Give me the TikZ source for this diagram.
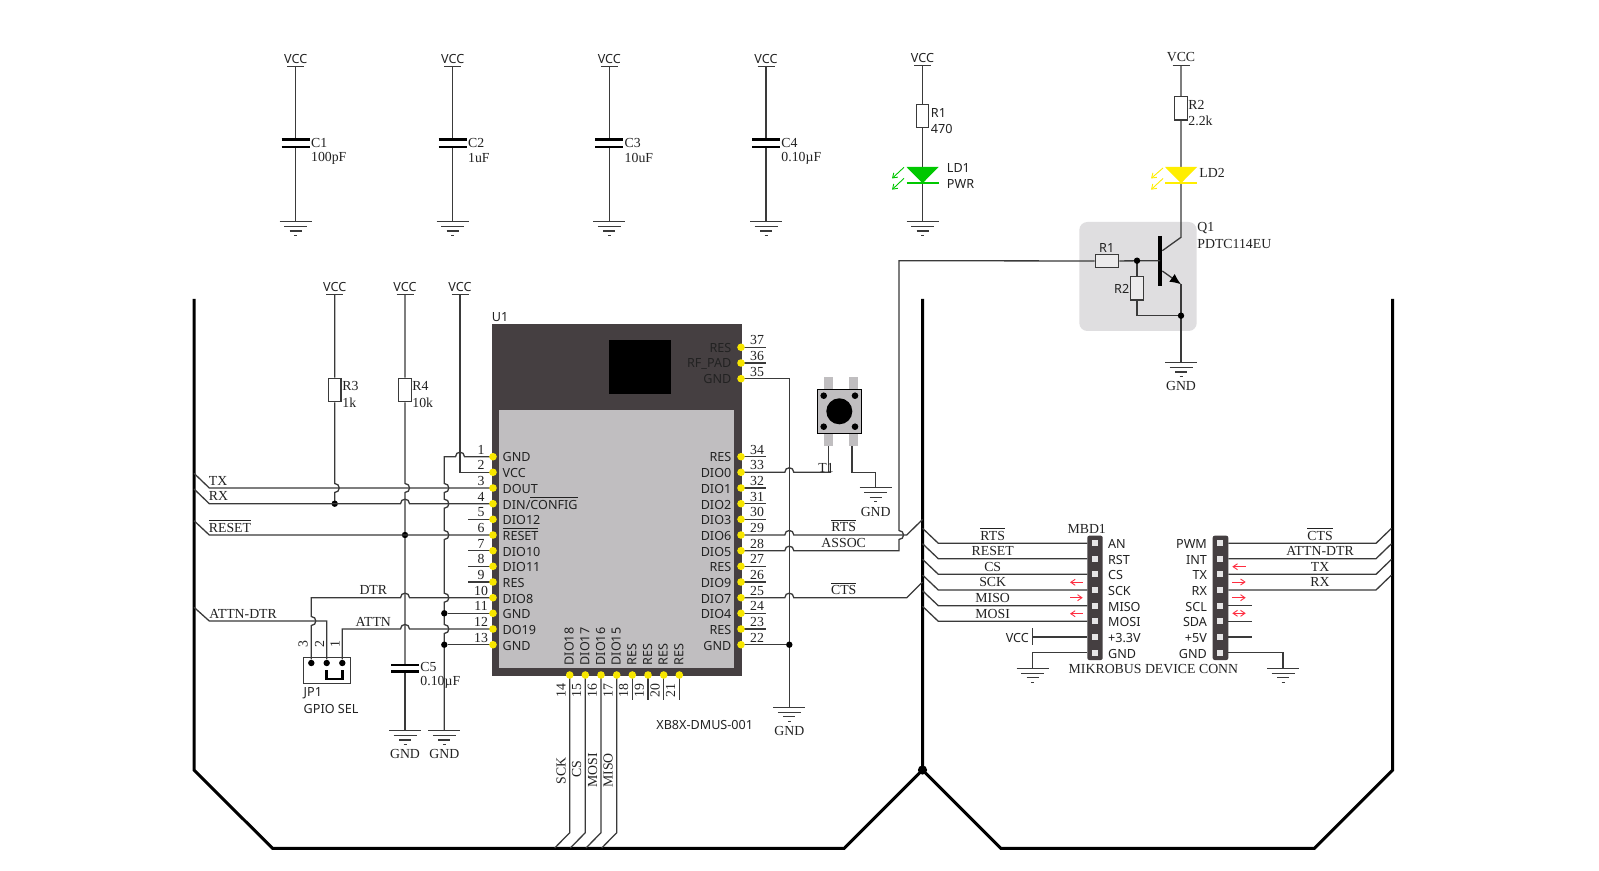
\documentclass[tikz,border=0pt]{standalone}
\usepackage{fontspec}
\setmainfont{Liberation Serif}
\newfontfamily\sanfont{Noto Sans}
\usetikzlibrary{arrows.meta}
\definecolor{wirec}{HTML}{3A3A3A}
\definecolor{chipd}{HTML}{453F41}
\definecolor{chipl}{HTML}{C0BEC0}
\definecolor{boxg}{HTML}{DFDEE0}
\definecolor{pinY}{HTML}{F7E600}
\definecolor{redA}{HTML}{FF2D40}
\definecolor{ledG}{HTML}{00C800}
\definecolor{ledY}{HTML}{FFEE00}
\definecolor{txtc}{HTML}{222222}
\tikzset{
  wire/.style={draw=wirec,line width=0.65pt},
  rail/.style={draw=black,line width=1.5pt,line join=miter},
  ser/.style={font=\fontsize{6.9}{8}\selectfont,text=txtc,inner sep=0pt,yshift=-0.2pt},
  san/.style={font=\sanfont\fontsize{6.3}{8}\selectfont,text=txtc,inner sep=0pt,yshift=-0.4pt},
  resv/.style={draw=wirec,line width=0.65pt,fill=white,minimum width=6.2pt,minimum height=11.7pt,inner sep=0pt},
  resh/.style={draw=wirec,line width=0.65pt,fill=white,minimum width=11.7pt,minimum height=6.2pt,inner sep=0pt},
  plate/.style={draw=black,line width=1.3pt},
  jdot/.style={circle,fill=black,inner sep=0pt,minimum size=3.2pt},
  pindot/.style={circle,fill=pinY,inner sep=0pt,minimum size=3.8pt},
  hdrsq/.style={fill=chipl!40!white,draw=none,inner sep=0pt,minimum size=3pt},
  redarrow/.style={draw=redA,line width=0.45pt},
  ledarrow/.style={line width=0.45pt,-{Straight Barb[length=2.2pt,width=3pt]}},
}
\newcommand\ovl[1]{\vphantom{#1}\smash{\ensuremath{\overline{\hbox{#1}}}}}
\newcommand\hopU[2]{-- ({#1-4.5},{#2}) .. controls ({#1-4.5},{#2-6}) and ({#1+4.5},{#2-6}) .. ({#1+4.5},{#2})}
\newcommand\hopD[2]{-- ({#1+4.5},{#2}) .. controls ({#1+4.5},{#2-6}) and ({#1-4.5},{#2-6}) .. ({#1-4.5},{#2})}
\newcommand\hopR[2]{-- ({#1},{#2-4.5}) .. controls ({#1+6},{#2-4.5}) and ({#1+6},{#2+4.5}) .. ({#1},{#2+4.5})}
\newcommand\hopRup[2]{-- ({#1},{#2+4.5}) .. controls ({#1+6},{#2+4.5}) and ({#1+6},{#2-4.5}) .. ({#1},{#2-4.5})}
\newcommand\vccbar[3]{\coordinate (#1) at ({#2},{#3+8.3});
  \draw[wire] ({#2-8.5},{#3+8.3}) -- ({#2+8.5},{#3+8.3});}
\newcommand\vccsym[3]{\node[san] (#1l) at ({#2},{#3}) {VCC};\vccbar{#1}{#2}{#3}}
\newcommand\vccser[3]{\node[ser] (#1l) at ({#2},{#3}) {VCC};\vccbar{#1}{#2}{#3}}
\newcommand\gndsym[3]{\coordinate (#1) at ({#2},{#3});
  \draw[wire] ({#2-16},{#3}) -- ({#2+16},{#3});
  \draw[wire] ({#2-11.5},{#3+5}) -- ({#2+11.5},{#3+5});
  \draw[wire] ({#2-6},{#3+9.5}) -- ({#2+6},{#3+9.5});
  \draw[wire] ({#2-1.5},{#3+14}) -- ({#2+1.5},{#3+14});}
\newcommand\gndlab[3]{\gndsym{#1}{#2}{#3}\node[ser] (#1l) at ({#2},{#3+23.5}) {GND};}
\newcommand\capv[4]{% name x label value
  \vccsym{#1v}{#2}{58}
  \gndsym{#1g}{#2}{221.5}
  \coordinate (#1a) at ({#2},139.7); \coordinate (#1b) at ({#2},146.9);
  \draw[wire] (#1v) -- (#1a); \draw[wire] (#1b) -- (#1g);
  \draw[plate] ({#2-14},139.7) -- ({#2+14},139.7);
  \draw[plate] ({#2-14},146.9) -- ({#2+14},146.9);
  \node[ser,anchor=west] (#1n) at ({#2+15},143) {#3};
  \node[ser,anchor=west] (#1w) at ({#2+15},158) {#4};}
\begin{document}
\begin{tikzpicture}[x=0.5pt,y=-0.5pt]
\useasboundingbox (0,0) rectangle (1599,871);
\fill[white] (0,0) rectangle (1599,871);

% rails
\draw[rail] (194,299) -- (194,770) -- (272.5,848.3) -- (844.3,848.3) -- (922.5,770) -- (922.5,299);
\draw[rail] (922.5,770) -- (1000.7,848.3) -- (1314.3,848.3) -- (1392.7,770) -- (1392.7,299);
\node[circle,fill=black,inner sep=0pt,minimum size=4.6pt] (railj) at (922.5,770) {};

% top capacitors
\capv{ca}{295.7}{C1}{100pF}
\capv{cb}{452.7}{C2}{1uF}
\capv{cc}{609.3}{C3}{10uF}
\capv{cd}{766}{C4}{0.10\textmu F}

% LD1
\vccsym{vLa}{922.5}{57.5}
\node[resv] (R1a) at (922.5,116) {};
\gndsym{gLa}{922.5}{221.5}
\draw[wire] (vLa) -- (R1a) -- (gLa);
\fill[ledG] (906.5,167) -- (938.5,167) -- (922.5,183.3) -- cycle;
\draw[ledG,line width=1.2pt] (906.5,183.3) -- (938.5,183.3);
\draw[ledarrow,ledG] (904,167.3) -- (892,178.5);
\draw[ledarrow,ledG] (904,178.3) -- (892,189.7);
\node[san,anchor=west] (R1an) at (930.5,112.7) {R1};
\node[san,anchor=west] (R1av) at (930.5,128.3) {470};
\node[san,anchor=west] (LD1n) at (946.5,167.7) {LD1};
\node[san,anchor=west] (LD1v) at (946.5,183.3) {PWR};

% LD2 and Q1
\fill[boxg,rounded corners=4pt] (1079.3,222) rectangle (1196.7,331);
\vccser{vLb}{1181}{57}
\node[resv] (R2b) at (1181,108.3) {};
\coordinate (Qc) at (1181,237.3);
\coordinate (Qcb) at (1162.3,250.7);
\coordinate (Qeb) at (1162.3,271);
\coordinate (Qe) at (1181,284.3);
\coordinate (Qj) at (1181,315.7);
\coordinate (Qb) at (1137,260.7);
\coordinate (Qbar) at (1160,260.7);
\coordinate (Qr) at (1137,315.7);
\gndlab{gQ}{1181}{362.5}
\draw[wire] (vLb) -- (R2b) -- (Qc) -- (Qcb);
\fill[ledY] (1165,167) -- (1197,167) -- (1181,183.3) -- cycle;
\draw[ledY,line width=1.2pt] (1165,183.3) -- (1197,183.3);
\draw[ledarrow,ledY] (1163,168) -- (1151,178.5);
\draw[ledarrow,ledY] (1163,178.5) -- (1151,189.7);
\node[ser,anchor=west] (R2bn) at (1188,105) {R2};
\node[ser,anchor=west] (R2bv) at (1188,120.7) {2.2k};
\node[ser,anchor=west] (LD2n) at (1199,173) {LD2};
\node[ser,anchor=west] (Q1n) at (1197,228) {Q1};
\node[ser,anchor=west] (Q1v) at (1197,244) {PDTC114EU};
\draw[black,line width=2.4pt] (1160,236) -- (1160,286);
\draw[wire,-{Latex[length=5.5pt,width=4.8pt,black]}] (Qeb) -- (Qe);
\draw[wire] (Qe) -- (Qj) -- (gQ);
\node[resh,fill=boxg!60!white] (R1q) at (1107,261) {};
\node[resv,fill=boxg!60!white] (R2q) at (1137,288.3) {};
\draw[wire] (R1q) -- (Qbar);
\draw[wire] (Qb) -- (R2q) -- (Qr) -- (Qj);
\node[jdot] (Qbd) at (Qb) {};
\node[jdot] (Qjd) at (Qj) {};
\node[san] (R1qn) at (1106.7,247.7) {R1};
\node[san] (R2qn) at (1121.7,287.7) {R2};

% chip
\fill[chipd] (491.7,324) rectangle (742,675.7);
\fill[chipl] (499.3,410) rectangle (734.3,668.3);
\fill[black] (609,339.7) rectangle (671.3,393.7);
\node[san,anchor=west] (U1n) at (491.5,316.7) {U1};
\node[san,anchor=west] (U1v) at (656,724) {XB8X-DMUS-001};

% pins
\foreach \n/\y in {1/456.7,2/472.3,3/488,4/503.7,5/519.3,6/535,7/550.7,8/566.3,9/582,10/597.7,11/613.3,12/629,13/644.7}{
  \coordinate (L\n) at (493,\y);
  \node[ser] (Ln\n) at (481,\y-7.4) {\n};
}
\foreach \n/\y/\t in {1/456.7/GND,2/472.3/VCC,3/488/DOUT,5/519.3/DIO12,6/535/\ovl{RESET},7/550.7/DIO10,8/566.3/DIO11,9/582/RES,10/597.7/DIO8,11/613.3/GND,12/629/DO19,13/644.7/GND}{
  \node[san,anchor=west] (Lt\n) at (502.3,\y) {\t};
}
\node[san,anchor=west] (Lt4) at (502.3,503.7) {DIN/\ovl{CONFIG}};
\foreach \n/\y/\t in {37/347.3/RES,36/363/RF\_PAD,35/378.7/GND,34/456.7/RES,33/472.3/DIO0,32/488/DIO1,31/503.7/DIO2,30/519.3/DIO3,29/535/DIO6,28/550.7/DIO5,27/566.3/RES,26/582/DIO9,25/597.7/DIO7,24/613.3/DIO4,23/629/RES,22/644.7/GND}{
  \coordinate (R\n) at (741,\y);
  \node[san,anchor=east] (Rt\n) at (731.7,\y) {\t};
  \node[ser] (Rn\n) at (757,\y-7.4) {\n};
}
\foreach \n/\x/\t in {14/569.7/DIO18,15/585.3/DIO17,16/601/DIO16,17/616.7/DIO15,18/632.3/RES,19/648/RES,20/663.7/RES,21/679.3/RES}{
  \coordinate (B\n) at (\x,675);
  \node[san,rotate=90,anchor=west] (Bt\n) at (\x-0.5,665) {\t};
  \node[ser,rotate=90] (Bn\n) at (\x-8.7,690) {\n};
}

% stubs
\foreach \n in {5,7,8,9}{ \draw[wire] (L\n) -- ++(-25.3,0); }
\foreach \n in {37,36,34,32,31,30,27,26,24,23}{ \draw[wire] (R\n) -- ++(25,0); }
\foreach \n in {18,19,20,21}{ \draw[wire] (B\n) -- ++(0,24.5); }

% left nets
\coordinate (txs) at (194,473.3); \coordinate (rxs) at (194,489);
\coordinate (rss) at (194,520.7); \coordinate (ads) at (194,607.3);
\vccsym{vR3}{334.7}{286}
\vccsym{vR4}{405}{286}
\vccsym{vP2}{460}{286}
\node[resv] (R3) at (334.7,390) {};
\node[resv] (R4) at (405,390) {};
\node[ser,anchor=west] (R3n) at (342,385.6) {R3};
\node[ser,anchor=west] (R3v) at (342,402) {1k};
\node[ser,anchor=west] (R4n) at (412,385.6) {R4};
\node[ser,anchor=west] (R4v) at (412,402) {10k};
\draw[wire] (vR3) -- (R3) \hopR{334.7}{488} -- (334.7,503.7);
\node[jdot] (jR3) at (334.7,503.7) {};
\draw[wire] (vR4) -- (R4) \hopR{405}{488} -- (405,665);
\coordinate (C5b) at (405,671.7);
\gndlab{gC5}{405}{730.5}
\draw[wire] (C5b) -- (gC5);
\draw[plate] (391,665) -- (419,665);
\draw[plate] (391,671.7) -- (419,671.7);
\node[ser,anchor=west] (C5n) at (420,666.7) {C5};
\node[ser,anchor=west] (C5v) at (420,682) {0.10\textmu F};
\node[jdot] (jR4) at (405,535) {};
\draw[wire] (vP2) |- (L2);
\gndlab{gP1}{444.3}{730.5}
\draw[wire] (L1) \hopD{460}{456.7} -- (444.3,456.7) \hopR{444.3}{488} \hopR{444.3}{503.7} \hopR{444.3}{535} \hopR{444.3}{597.7} \hopR{444.3}{629} -- (gP1);
\node[jdot] (jL11) at (444.3,613.3) {};
\node[jdot] (jL13) at (444.3,644.7) {};
\draw[wire] (L11) -- (jL11);
\draw[wire] (L13) -- (jL13);
\draw[wire] (txs) -- (209.3,488) -- (L3);
\draw[wire] (rxs) -- (209.3,503.7) \hopU{405}{503.7} -- (L4);
\draw[wire] (rss) -- (209.3,535) -- (L6);
\node[ser,anchor=west] (txn) at (208.5,480.7) {TX};
\node[ser,anchor=west] (rxn) at (208.5,496) {RX};
\node[ser,anchor=west] (rsn) at (208.5,527.3) {\ovl{RESET}};
\node[ser,anchor=west] (adn) at (209,613.3) {ATTN-DTR};
\node[ser] (dtn) at (373.3,590) {DTR};
\node[ser] (atn) at (373.3,621.7) {ATTN};

% JP1
\draw[wire,fill=white] (303.3,657.3) rectangle (350.3,683.7);
\node[jdot] (J3) at (311.3,663) {};
\node[jdot] (J2) at (326.7,663) {};
\node[jdot] (J1) at (342.3,663) {};
\draw[black,line width=1.3pt] (326.7,670) -- (326.7,679) -- (342.3,679) -- (342.3,670);
\draw[wire] (ads) -- (209.3,621) -- (326.7,621) -- (J2);
\draw[wire] (J3) \hopRup{311.3}{621} -- (311.3,597.7) \hopU{405}{597.7} -- (L10);
\draw[wire] (J1) -- (342.3,629) \hopU{405}{629} -- (L12);
\node[ser,rotate=90] (Jn3) at (303,644) {3};
\node[ser,rotate=90] (Jn2) at (319.5,644) {2};
\node[ser,rotate=90] (Jn1) at (335,644) {1};
\node[san,anchor=west] (JP1n) at (303.3,692.7) {JP1};
\node[san,anchor=west] (JP1v) at (303.3,708) {GPIO SEL};

% bottom nets
\draw[wire] (B14) -- (569.7,832.7) -- (554.7,848);
\draw[wire] (B15) -- (585.3,832.7) -- (570.3,848);
\draw[wire] (B16) -- (601,832.7) -- (586,848);
\draw[wire] (B17) -- (616.7,832.7) -- (601.7,848);
\node[ser,rotate=90] (nSCK) at (561,770.7) {SCK};
\node[ser,rotate=90] (nCS) at (576.7,769) {CS};
\node[ser,rotate=90] (nMOSI) at (592.7,770) {MOSI};
\node[ser,rotate=90] (nMISO) at (608,770) {MISO};

% right nets
\gndlab{gU}{789.3}{707.3}
\draw[wire] (R35) -- (789.3,378.7) -- (gU);
\node[jdot] (jU) at (789.3,644.7) {};
\draw[wire] (R22) -- (jU);
\draw[wire] (R33) \hopU{789.3}{472.3} -- (831,472.3);
\coordinate (swA) at (828.3,445.7);
\coordinate (swB) at (852,445.7);
\draw[wire] (swA) -- (828.3,472.3);
\gndlab{gSw}{875.7}{487.7}
\draw[wire] (swB) |- (875.7,472.3) -- (gSw);
\node[ser,anchor=west] (T1n) at (818,468) {T1};
\coordinate (qIn) at (899,260.7);
\draw[wire] (R1q) -- (qIn) -- (899,530.5) .. controls (905,530.5) and (905,539.5) .. (899,539.5) -- (899,550.7)
  -- (793.8,550.7) .. controls (793.8,544.7) and (784.8,544.7) .. (784.8,550.7) -- (R28);
\draw[wire] (R29) \hopU{789.3}{535} -- (906.7,535) -- (922.5,519.5);
\draw[wire] (R25) \hopU{789.3}{597.7} -- (906.7,597.7) -- (922.5,582);
\node[ser] (nRTSa) at (843.7,527) {\ovl{RTS}};
\node[ser] (nASSOC) at (843.7,543) {ASSOC};
\node[ser] (nCTSa) at (843.7,590) {\ovl{CTS}};

% button
\fill[chipl] (824,376.7) rectangle (833,389.3);
\fill[chipl] (849,376.7) rectangle (857.7,389.3);
\fill[chipl] (824,433.3) rectangle (833,445.7);
\fill[chipl] (849,433.3) rectangle (857.7,445.7);
\draw[black,line width=0.7pt,fill=chipl] (817.3,389.3) rectangle (861.3,433.3);
\fill[black] (839.3,411.3) circle[radius=6.5pt];
\foreach \x/\y in {823.7/395.7,855/395.7,823.7/426.7,855/426.7}{ \fill[black] (\x,\y) circle[radius=1.65pt]; }

% mikroBUS left
\fill[chipd,rounded corners=1pt] (1087.3,535.7) rectangle (1102.7,660);
\foreach \n/\y/\t in {a/543.3/AN,b/558.7/RST,c/574.3/CS,d/590/SCK,e/605.7/MISO,f/621.3/MOSI,g/637/+3.3V,h/652.7/GND}{
  \node[hdrsq] (ML\n) at (1095,\y) {};
  \node[san,anchor=west] (MLt\n) at (1107.7,\y) {\t};
}
\foreach \n/\y/\t in {a/543.3/\ovl{RTS},b/558.7/RESET,c/574.3/CS,d/590/SCK,e/605.7/MISO,f/621.3/MOSI}{
  \coordinate (MLs\n) at (938.3,\y);
  \coordinate (MLr\n) at (922.5,\y-15);
  \draw[wire] (MLr\n) -- (MLs\n) -- (1087.3,\y);
  \node[ser] (MLl\n) at (992.7,\y-8) {\t};
}
\node[san,anchor=east] (vccM) at (1029.3,637) {VCC};
\draw[wire] (1032.7,628.3) -- (1032.7,645);
\draw[wire] (1032.7,637) -- (1087.3,637);
\gndsym{gML}{1032.7}{668.3}
\draw[wire] (1087.3,652.7) -| (gML);
\node[ser] (MBD) at (1086.7,528.3) {MBD1};
\node[ser,anchor=west] (MBC) at (1068.3,668.3) {MIKROBUS DEVICE CONN};
\draw[redarrow,-{Straight Barb[length=2.2pt,width=3pt]}] (1082.7,582.3) -- (1070,582.3);
\draw[redarrow,-{Straight Barb[length=2.2pt,width=3pt]}] (1070,597.7) -- (1082.7,597.7);
\draw[redarrow,-{Straight Barb[length=2.2pt,width=3pt]}] (1082.7,613.7) -- (1070,613.7);

% mikroBUS right
\fill[chipd,rounded corners=1pt] (1212.7,535.7) rectangle (1228.3,660);
\foreach \n/\y/\t in {a/543.3/PWM,b/558.7/INT,c/574.3/TX,d/590/RX,e/605.7/SCL,f/621.3/SDA,g/637/+5V,h/652.7/GND}{
  \node[hdrsq] (MR\n) at (1220,\y) {};
  \node[san,anchor=east] (MRt\n) at (1207.3,\y) {\t};
}
\foreach \n/\y/\t in {a/543.3/\ovl{CTS},b/558.7/ATTN-DTR,c/574.3/TX,d/590/RX}{
  \coordinate (MRr\n) at (1391.5,\y-15);
  \draw[wire] (1228.3,\y) -- (1376,\y) -- (MRr\n);
  \node[ser] (MRl\n) at (1320,\y-8) {\t};
}
\foreach \n/\y in {e/605.7,f/621.3,g/637}{ \draw[wire] (1228.3,\y) -- (1252,\y); }
\gndsym{gMR}{1283}{668.3}
\draw[wire] (1228.3,652.7) -| (gMR);
\draw[redarrow,-{Straight Barb[length=2.2pt,width=3pt]}] (1245.7,566.7) -- (1232.3,566.7);
\draw[redarrow,-{Straight Barb[length=2.2pt,width=3pt]}] (1232.3,582) -- (1245.7,582);
\draw[redarrow,-{Straight Barb[length=2.2pt,width=3pt]}] (1232.3,597.7) -- (1245.7,597.7);
\draw[redarrow,{Straight Barb[length=2.2pt,width=3pt]}-{Straight Barb[length=2.2pt,width=3pt]}] (1232.3,613.3) -- (1245.7,613.3);

% pin dots on top
\foreach \n in {1,...,13}{ \node[pindot] (dL\n) at (L\n) {}; }
\foreach \n in {22,...,37}{ \node[pindot] (dR\n) at (R\n) {}; }
\foreach \n in {14,...,21}{ \node[pindot] (dB\n) at (B\n) {}; }
\end{tikzpicture}
\end{document}
